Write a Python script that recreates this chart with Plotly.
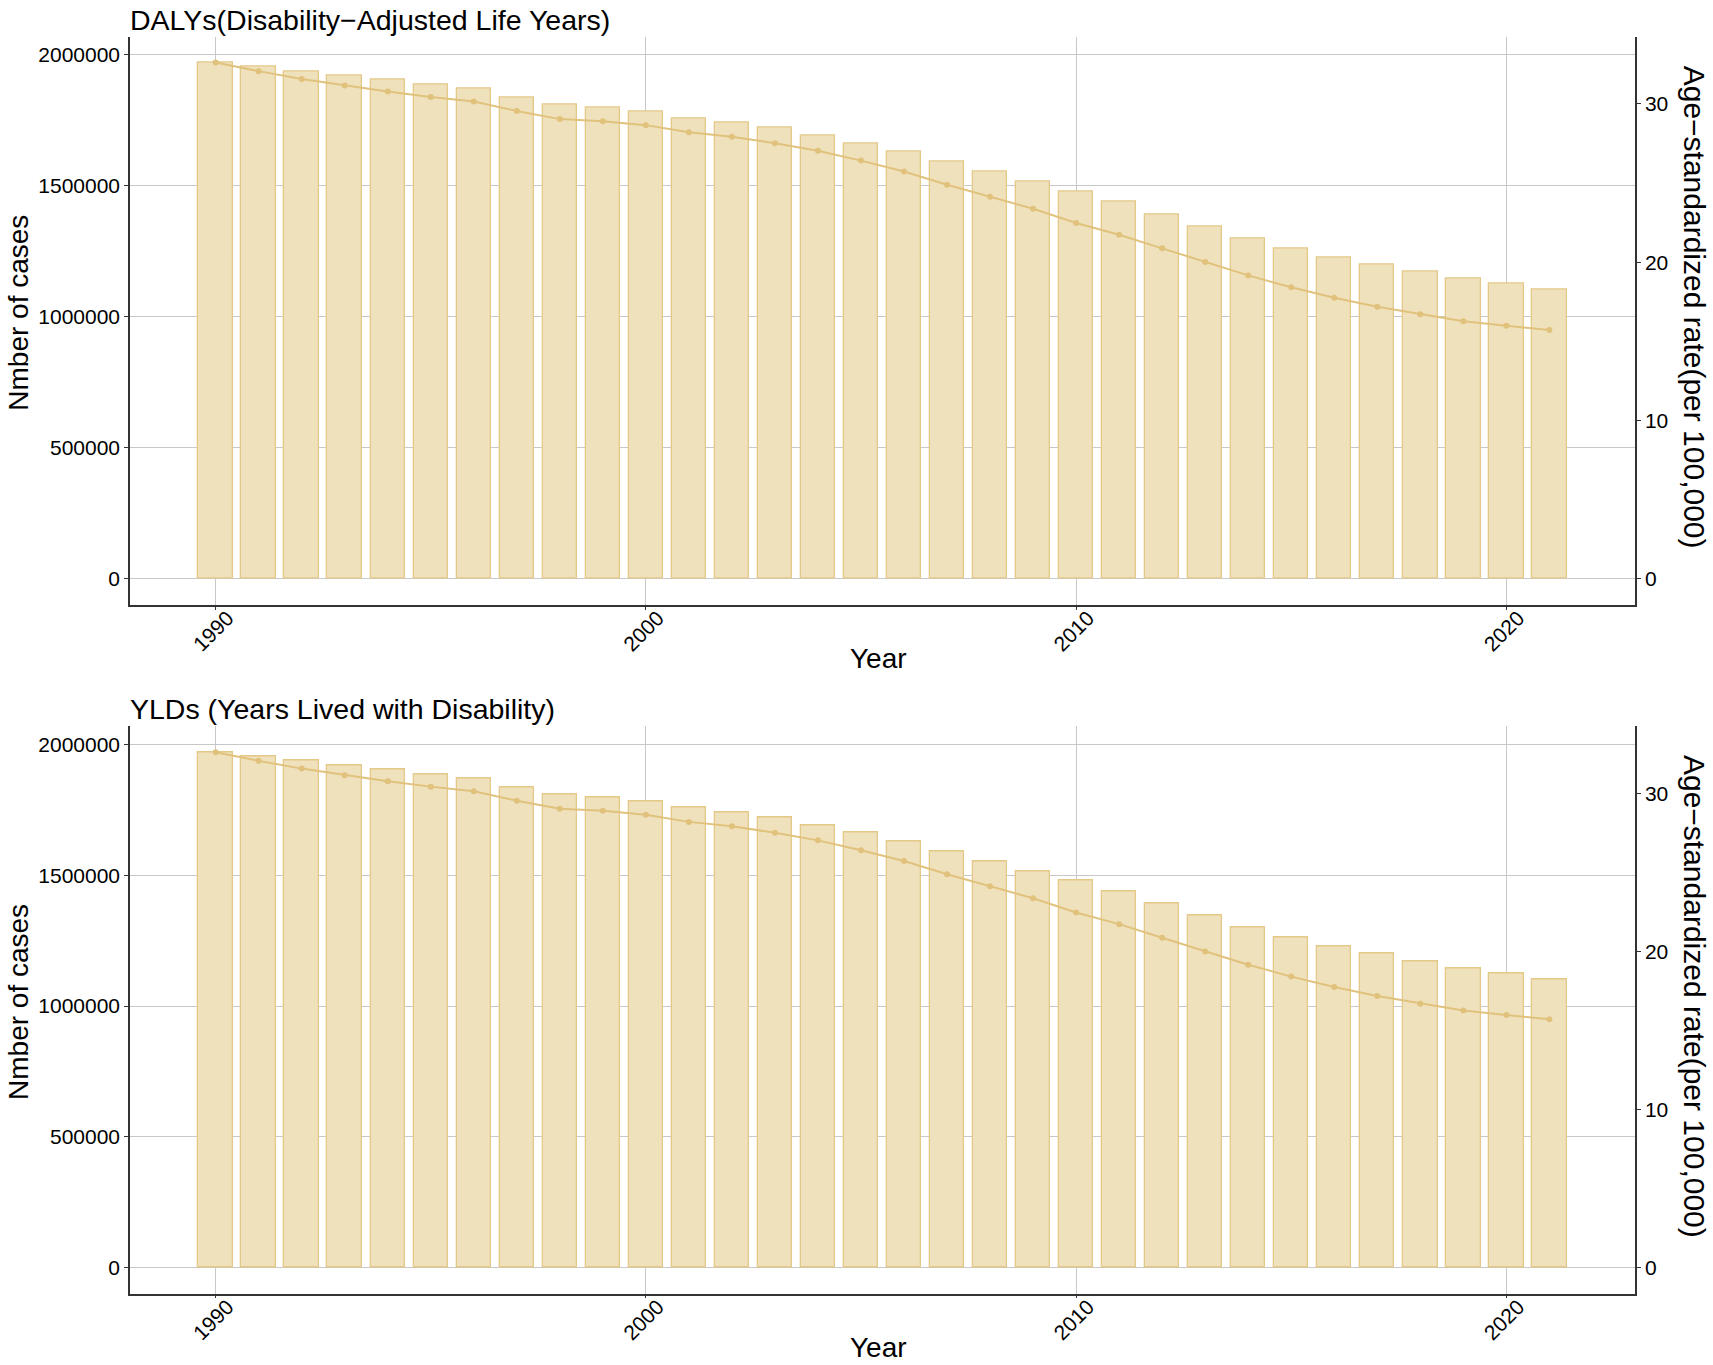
import plotly.graph_objects as go

years = list(range(1990, 2022))

daly_cases = [1970800, 1954000, 1937500, 1922100, 1904000, 1886400, 1871100, 1836500,
              1808200, 1799300, 1784000, 1758300, 1741700, 1720800, 1691700, 1662500,
              1629200, 1591700, 1554200, 1516700, 1479200, 1439000, 1392000, 1346300,
              1300500, 1261200, 1226900, 1200200, 1172000, 1144200, 1125100, 1103400]
daly_rate = [32.62, 32.07, 31.58, 31.16, 30.78, 30.44, 30.15, 29.55, 29.04, 28.91,
             28.66, 28.21, 27.93, 27.52, 27.04, 26.42, 25.73, 24.90, 24.14, 23.38,
             22.48, 21.74, 20.88, 20.01, 19.17, 18.42, 17.76, 17.19, 16.71, 16.27,
             15.99, 15.72]

yld_cases = [1970800, 1954000, 1937500, 1922100, 1904000, 1886400, 1871100, 1836500,
             1808200, 1799300, 1784000, 1758300, 1741700, 1720800, 1691700, 1662500,
             1629200, 1591700, 1554200, 1516700, 1479200, 1439000, 1392000, 1346300,
             1300500, 1261200, 1226900, 1200200, 1172000, 1144200, 1125100, 1103400]
yld_rate = [32.62, 32.07, 31.58, 31.16, 30.78, 30.44, 30.15, 29.55, 29.04, 28.91,
            28.66, 28.21, 27.93, 27.52, 27.04, 26.42, 25.73, 24.90, 24.14, 23.38,
            22.48, 21.74, 20.88, 20.01, 19.17, 18.42, 17.76, 17.19, 16.71, 16.27,
            15.99, 15.72]

panel_titles = ["DALYs(Disability\u2212Adjusted Life Years)", "YLDs (Years Lived with Disability)"]
x_ticks = [1990, 2000, 2010, 2020]
left_ticks = [0, 500000, 1000000, 1500000, 2000000]
right_ticks = [0, 10, 20, 30]

W, H = 1713, 1365
FONT = "Liberation Sans"
BAR_FILL = "#F0E1BD"
BAR_LINE = "#E3C887"
LINE_COL = "#E0C27C"
GRID = "#C8C8C8"
AXIS = "#333333"
TICK_SIZE = 21
TITLE_SIZE = 28.5
AXTITLE_SIZE = 28

def px_x(p):
    return p / W

def px_y(p):
    return 1 - p / H

fig = go.Figure()

panels = [
    (daly_cases, daly_rate, (36.6, 604.8)),
    (yld_cases, yld_rate, (726.4, 1293.5)),
]

x_lo, x_hi = 1989.6, 2021.4
x_pad = 0.05 * (x_hi - x_lo)
x_range = [x_lo - x_pad, x_hi + x_pad]

annotations = []
for i, (cases, rate, (top, bot)) in enumerate(panels):
    n = i + 1
    xa = "x" if n == 1 else f"x{n}"
    ya = f"y{2*n-1}" if n > 1 else "y"
    ya2 = f"y{2*n}"
    cmax = max(cases)
    factor = cmax / max(rate)
    yr = [-0.05 * cmax, 1.05 * cmax]
    fig.add_trace(go.Bar(x=years, y=cases, width=0.8, xaxis=xa, yaxis=ya,
                         marker=dict(color=BAR_FILL, line=dict(color=BAR_LINE, width=1.3)),
                         showlegend=False))
    fig.add_trace(go.Scatter(x=years, y=rate, mode="lines+markers", xaxis=xa, yaxis=ya2,
                             line=dict(color=LINE_COL, width=2),
                             marker=dict(color=LINE_COL, size=6),
                             showlegend=False))
    dom_y = [px_y(bot), px_y(top)]
    xkey = "xaxis" if n == 1 else f"xaxis{n}"
    ykey = "yaxis" if n == 1 else f"yaxis{2*n-1}"
    y2key = f"yaxis{2*n}"
    fig.layout[xkey] = dict(domain=[px_x(130), px_x(1635)], range=x_range, anchor=ya,
                            tickvals=x_ticks, ticktext=[str(t) for t in x_ticks],
                            tickangle=-45, ticklabelshift=12, ticklabelstandoff=-12,
                            showgrid=True, gridcolor=GRID, gridwidth=1,
                            showline=True, linecolor=AXIS, linewidth=1.5,
                            ticks="outside", ticklen=3, tickcolor=AXIS,
                            tickfont=dict(size=TICK_SIZE, color="black", family=FONT),
                            zeroline=False)
    fig.layout[ykey] = dict(domain=dom_y, range=yr, anchor=xa,
                            tickvals=left_ticks, ticktext=[str(t) for t in left_ticks],
                            showgrid=True, gridcolor=GRID, gridwidth=1,
                            showline=True, linecolor=AXIS, linewidth=1.5,
                            ticks="outside", ticklen=4, tickcolor=AXIS,
                            tickfont=dict(size=TICK_SIZE, color="black", family=FONT),
                            zeroline=False)
    fig.layout[y2key] = dict(range=[yr[0] / factor, yr[1] / factor], overlaying=ya,
                             side="right", anchor=xa,
                             tickvals=right_ticks, ticktext=[str(t) for t in right_ticks],
                             showgrid=False, showline=True, linecolor=AXIS, linewidth=1.5,
                             ticks="outside", ticklen=4, tickcolor=AXIS,
                             tickfont=dict(size=TICK_SIZE, color="black", family=FONT),
                             zeroline=False)
    mid = (top + bot) / 2
    annotations += [
        dict(text=panel_titles[i], x=px_x(128), y=px_y(top - 17), xref="paper", yref="paper",
             xanchor="left", yanchor="middle", showarrow=False,
             font=dict(size=TITLE_SIZE, color="black", family=FONT)),
        dict(text="Year", x=px_x(878), y=px_y(bot + 54), xref="paper", yref="paper",
             xanchor="center", yanchor="middle", showarrow=False,
             font=dict(size=AXTITLE_SIZE, color="black", family=FONT)),
        dict(text="Nmber of cases", x=px_x(19), y=px_y(mid - 8), xref="paper", yref="paper",
             xanchor="center", yanchor="middle", textangle=-90, showarrow=False,
             font=dict(size=AXTITLE_SIZE, color="black", family=FONT)),
        dict(text="Age\u2212standardized rate(per 100,000)", x=px_x(1694), y=px_y(mid - 14),
             xref="paper", yref="paper", xanchor="center", yanchor="middle", textangle=90,
             showarrow=False, font=dict(size=30, color="black", family=FONT)),
    ]

fig.update_layout(width=W, height=H, margin=dict(l=0, r=0, t=0, b=0),
                  paper_bgcolor="white", plot_bgcolor="white", bargap=0,
                  font=dict(family=FONT, color="black"),
                  annotations=annotations, showlegend=False)

fig.write_html("out.html", config={"displayModeBar": False},
               post_script="document.body.style.margin='0';document.body.style.overflow='hidden';")
